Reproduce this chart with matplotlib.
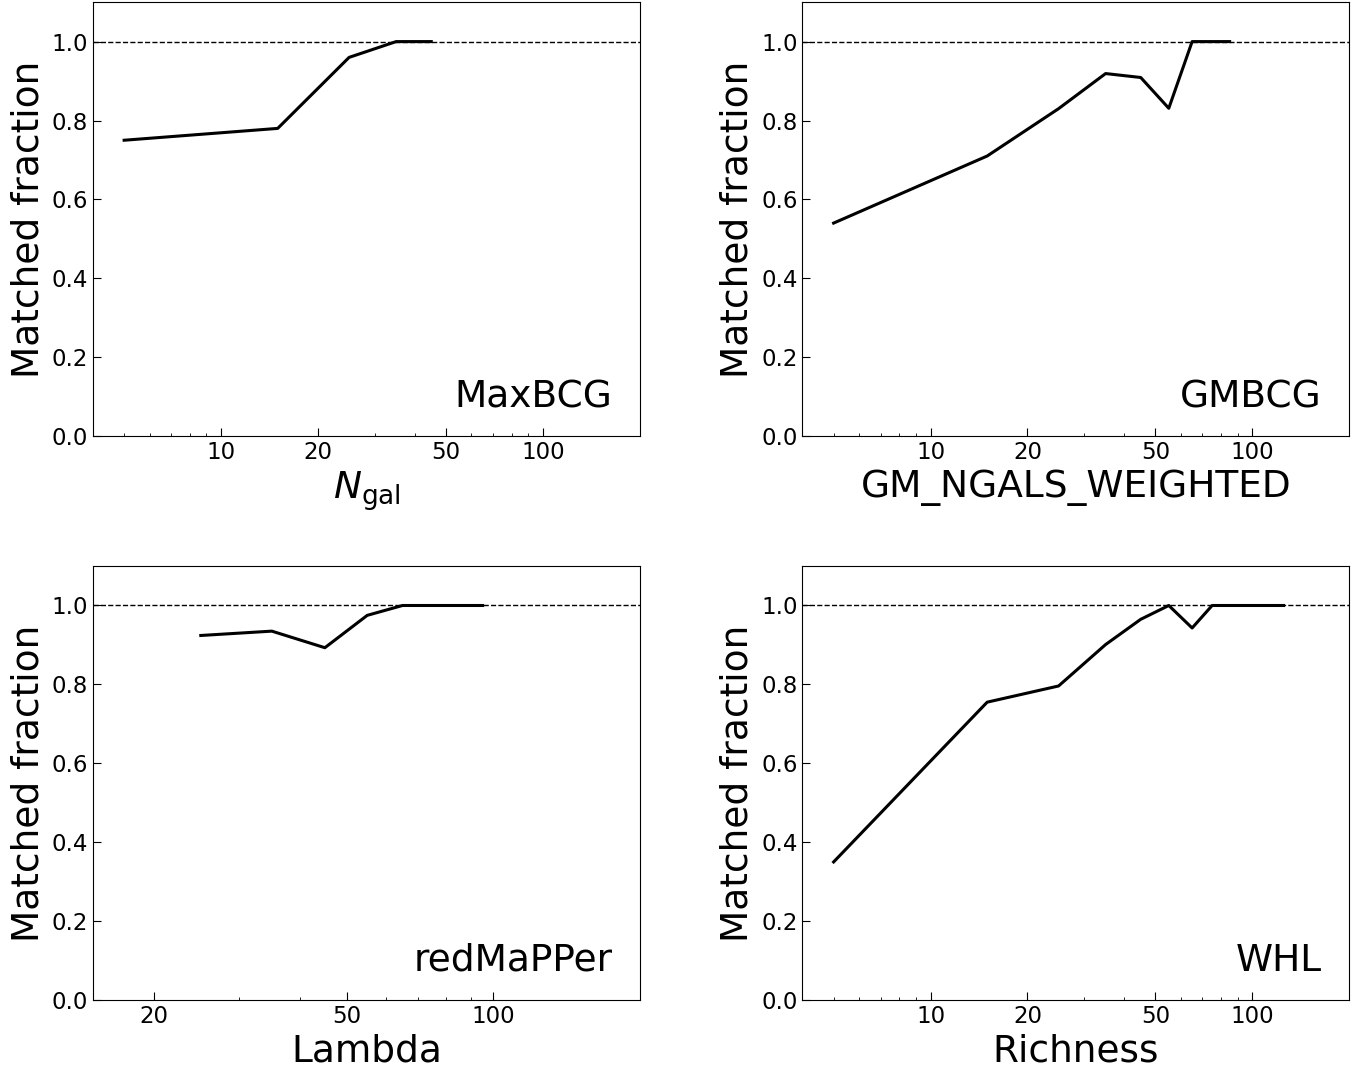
import numpy as np
import matplotlib
matplotlib.use("Agg")
import matplotlib.pyplot as plt
from matplotlib.ticker import FixedLocator, NullFormatter, FixedFormatter

# dati: centro bin e frazione di match
maxbcg_x = [5, 15, 25, 35, 45]
maxbcg_y = [0.75, 0.78, 0.96, 1.0, 1.0]

gmbcg_x = [5, 15, 25, 35, 45, 55, 65, 75, 85]
gmbcg_y = [0.54, 0.71, 0.83, 0.919, 0.909, 0.831, 1.0, 1.0, 1.0]

redm_x = [25, 35, 45, 55, 65, 75, 85, 95]
redm_y = [0.924, 0.935, 0.893, 0.975, 1.0, 1.0, 1.0, 1.0]

whl_x = [5, 15, 25, 35, 45, 55, 65, 75, 85, 95, 105, 115, 125]
whl_y = [0.35, 0.755, 0.796, 0.901, 0.965, 1.0, 0.943, 1.0, 1.0, 1.0, 1.0, 1.0, 1.0]

panels = [
    (maxbcg_x, maxbcg_y, r"$N_{\rm gal}$", "MaxBCG", (4, 200)),
    (gmbcg_x, gmbcg_y, "GM_NGALS_WEIGHTED", "GMBCG", (4, 200)),
    (redm_x, redm_y, "Lambda", "redMaPPer", (15, 200)),
    (whl_x, whl_y, "Richness", "WHL", (4, 200)),
]

major = [10, 20, 50, 100]
minor = [4, 5, 6, 7, 8, 9, 30, 40, 60, 70, 80, 90, 200]

fig = plt.figure(figsize=(13.67, 10.69), dpi=100)

# posizioni assi [left, bottom, width, height] in frazione di figura
boxes = [
    [0.068, 0.592, 0.400, 0.406],
    [0.587, 0.592, 0.400, 0.406],
    [0.068, 0.0645, 0.400, 0.406],
    [0.587, 0.0645, 0.400, 0.406],
]

for (x, y, xlab, name, xlim), box in zip(panels, boxes):
    ax = fig.add_axes(box)
    ax.plot(x, y, color="black", lw=2.2)
    ax.axhline(1.0, color="black", ls="--", lw=1)
    ax.set_xscale("log")
    ax.set_xlim(*xlim)
    ax.set_ylim(0, 1.1)
    ax.xaxis.set_major_locator(FixedLocator(major))
    ax.xaxis.set_major_formatter(FixedFormatter([str(m) for m in major]))
    ax.xaxis.set_minor_locator(FixedLocator(minor))
    ax.xaxis.set_minor_formatter(NullFormatter())
    ax.set_yticks([0.0, 0.2, 0.4, 0.6, 0.8, 1.0])
    ax.tick_params(which="major", direction="in", length=6, labelsize=16.5)
    ax.tick_params(which="minor", direction="in", length=2)
    ax.set_xlabel(xlab, fontsize=27)
    ax.set_ylabel("Matched fraction", fontsize=27)
    ax.text(0.95, 0.067, name, transform=ax.transAxes, ha="right",
            va="baseline", fontsize=27)

plt.savefig("out.png", dpi=100)
